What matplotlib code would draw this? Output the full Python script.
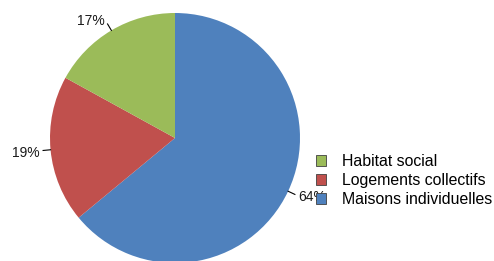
import numpy as np
import matplotlib
matplotlib.use("Agg")
import matplotlib.pyplot as plt
from matplotlib.patches import Patch

plt.rcParams['font.family'] = ['Liberation Sans', 'DejaVu Sans']

categories = ["Maisons individuelles", "Logements collectifs", "Habitat social"]
values = [64, 19, 17]
colors = ["#4F81BD", "#C0504D", "#9BBB59"]
pct_labels = ["64%", "19%", "17%"]

W, H = 494, 261
fig = plt.figure(figsize=(W / 100, H / 100), dpi=100)
cx, cy, r = 175, 138, 125
ax = fig.add_axes([(cx - r) / W, (H - cy - r) / H, 2 * r / W, 2 * r / H])
wedges, _ = ax.pie(values, colors=colors, startangle=90, counterclock=False,
                   radius=1, wedgeprops=dict(linewidth=0))
ax.set_xlim(-1, 1)
ax.set_ylim(-1, 1)
ax.set_aspect('equal')
ax.axis('off')

for w, lab in zip(wedges, pct_labels):
    ang = np.deg2rad((w.theta1 + w.theta2) / 2)
    c, s = np.cos(ang), np.sin(ang)
    x0, y0 = 1.0 * c, 1.0 * s
    x1, y1 = 1.06 * c, 1.06 * s
    ax.plot([x0, x1], [y0, y1], color="black", lw=0.8, clip_on=False)
    ha = 'left' if c > 0 else 'right'
    tx = x1 + (0.025 if c > 0 else -0.025)
    ty = y1 + 0.02 * np.sign(s)
    ax.text(tx, ty, lab, ha=ha, va='center', fontsize=10, color="#1a1a1a",
            clip_on=False)

handles = [Patch(facecolor=colors[i], edgecolor="#404040", linewidth=0.6)
           for i in [2, 1, 0]]
labels = [categories[i] for i in [2, 1, 0]]
leg = fig.legend(handles, labels, loc='upper left',
                 bbox_to_anchor=(316 / W, 1 - 154 / H), frameon=False,
                 fontsize=11.4, handlelength=0.65, handleheight=0.65,
                 handletextpad=1.0, labelspacing=0.25, borderpad=0,
                 borderaxespad=0)
leg.set_zorder(10)
for p in leg.get_patches():
    p.set_zorder(11)
fig.savefig("out.png", dpi=100)
